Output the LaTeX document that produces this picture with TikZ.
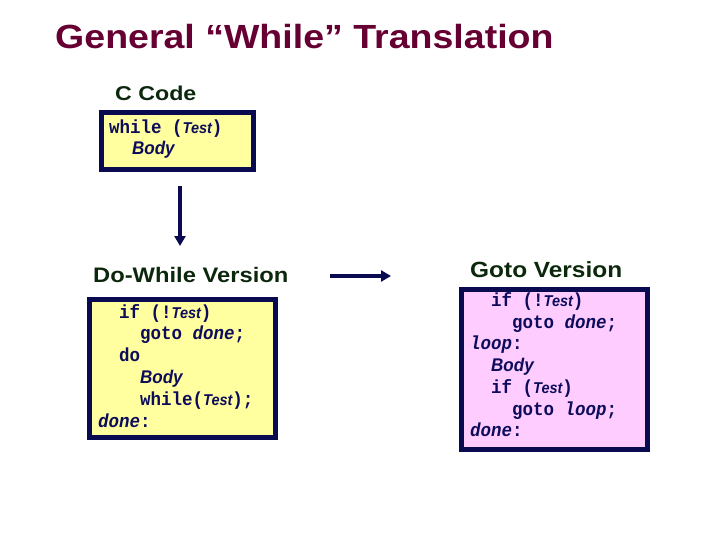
\documentclass[tikz,border=0pt]{standalone}
\usepackage{fontspec}
\setmainfont{Liberation Sans}
\newfontfamily\cf{Liberation Mono}
\usetikzlibrary{arrows.meta}
\definecolor{titlec}{RGB}{102,0,51}
\definecolor{headc}{RGB}{12,40,12}
\definecolor{navy}{RGB}{12,12,90}
\definecolor{boxline}{RGB}{10,10,80}
\definecolor{yel}{RGB}{255,255,160}
\definecolor{pnk}{RGB}{255,204,255}
\newcommand\tst[1]{{\fontsize{14.5}{14.5}\selectfont\rmfamily\bfseries\itshape #1}}
\newcommand\bdy{{\fontsize{17}{17}\selectfont\rmfamily\bfseries\itshape Body}}
\newcommand\lb[1]{{\itshape #1}}
\newcommand\cl[1]{\scalebox{1}[1.08]{#1}}
\newcommand\hx[2]{\scalebox{#1}[1]{#2}}
\tikzset{
  codebox/.style={draw=boxline, line width=5pt, rectangle, inner sep=0pt},
  code/.style={anchor=base west, inner sep=0pt, text=navy, font=\cf\bfseries\fontsize{17.5}{17.5}\selectfont},
  head/.style={anchor=base west, inner sep=0pt, text=headc},
  arr/.style={draw=boxline, line width=4pt, -{Triangle[length=10pt,width=11pt]}}
}
\begin{document}
\begin{tikzpicture}[x=1pt,y=-1pt]
\useasboundingbox (0,0) rectangle (720,540);
% title
\node[anchor=base west, inner sep=0pt, text=titlec, font=\fontsize{33.5}{36}\selectfont\bfseries] (title) at (55,49) {\hx{1.12}{General “While” Translation}};
% headings
\node[head, font=\fontsize{20}{20}\selectfont\bfseries] (hc) at (115,101) {\hx{1.16}{C Code}};
\node[head, font=\fontsize{21}{21}\selectfont\bfseries] (hd) at (93,282) {\hx{1.13}{Do-While Version}};
\node[head, font=\fontsize{22}{22}\selectfont\bfseries] (hg) at (470,277) {\hx{1.11}{Goto Version}};
% boxes
\node[codebox, fill=yel, minimum width=152pt, minimum height=57pt] (b1) at (177.5,141) {};
\node[codebox, fill=yel, minimum width=186pt, minimum height=138pt] (b2) at (182.5,368.5) {};
\node[codebox, fill=pnk, minimum width=186pt, minimum height=160pt] (b3) at (554.5,369.5) {};
% box 1 code
\node[code] (a1) at (109,134) {\cl{while (\tst{Test})}};
\node[code] (a2) at (132,155) {\cl{\bdy}};
% box 2 code
\node[code] (d1) at (119,318) {\cl{if (!\tst{Test})}};
\node[code] (d2) at (140,339.8) {\cl{goto \lb{done};}};
\node[code] (d3) at (119,361.6) {\cl{do}};
\node[code] (d4) at (140,383.4) {\cl{\bdy}};
\node[code] (d5) at (140,405.2) {\cl{while(\tst{Test});}};
\node[code] (d6) at (98,427) {\cl{\lb{done}:}};
% box 3 code
\node[code] (g1) at (491,306.5) {\cl{if (!\tst{Test})}};
\node[code] (g2) at (512,328.2) {\cl{goto \lb{done};}};
\node[code] (g3) at (470,349.9) {\cl{\lb{loop}:}};
\node[code] (g4) at (491,371.6) {\cl{\bdy}};
\node[code] (g5) at (491,393.3) {\cl{if (\tst{Test})}};
\node[code] (g6) at (512,415) {\cl{goto \lb{loop};}};
\node[code] (g7) at (470,436.7) {\cl{\lb{done}:}};
% arrows
\coordinate (v1) at (180,186);
\coordinate (v2) at (180,246);
\coordinate (h1) at (330,276);
\coordinate (h2) at (391,276);
\draw[arr] (v1) -- (v2);
\draw[arr] (h1) -- (h2);
\end{tikzpicture}
\end{document}
